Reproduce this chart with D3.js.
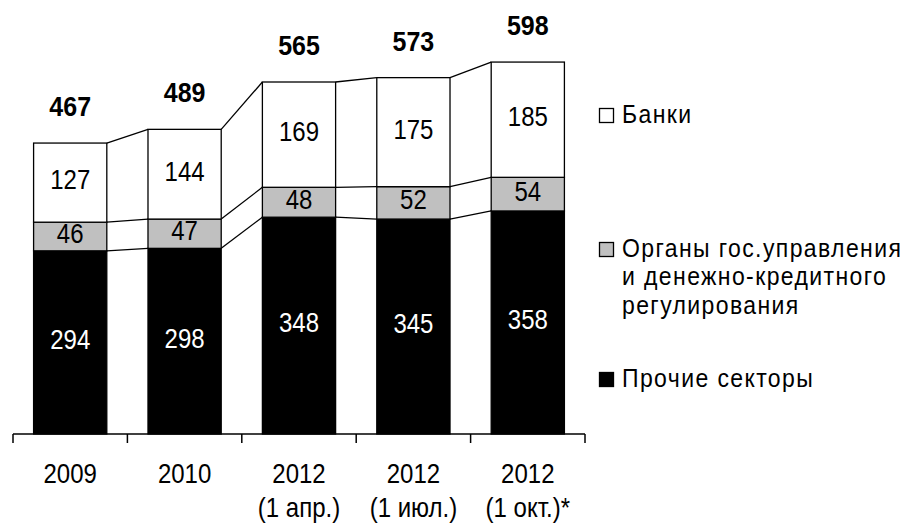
<!DOCTYPE html>
<html>
<head>
<meta charset="utf-8">
<script src="https://cdn.jsdelivr.net/npm/d3@7"></script>
<style>
  body { margin: 0; background: #fff; }
  text { font-family: "Liberation Sans", Arial, sans-serif; fill: #000; }
</style>
</head>
<body>
<div id="chart"></div>
<script>
// Data
const years = ['2009', '2010', '2012', '2012', '2012'];
const subLabels = ['', '', '(1 апр.)', '(1 июл.)', '(1 окт.)*'];
const otherSectors = [294, 298, 348, 345, 358];
const govBodies = [46, 47, 48, 52, 54];
const banks = [127, 144, 169, 175, 185];
const totals = [467, 489, 565, 573, 598];

const width = 912, height = 523;
const stretch = 1.13; // text in the picture is a bit taller than wide

const svg = d3.select('#chart')
    .append('svg')
    .attr('width', width)
    .attr('height', height);

const rows = years.map((yr, i) => ({
    idx: i,
    other: otherSectors[i],
    gov: govBodies[i],
    banks: banks[i]
}));

const keys = ['other', 'gov', 'banks'];
const fills = { other: '#000000', gov: '#c0c0c0', banks: '#ffffff' };
const textFill = { other: '#ffffff', gov: '#000000', banks: '#000000' };

const stacked = d3.stack().keys(keys)(rows);

const x = d3.scaleBand()
    .domain(d3.range(years.length))
    .range([13, 585])
    .paddingInner(0.36)
    .paddingOuter(0.18);

const y = d3.scaleLinear()
    .domain([0, 600])
    .range([434, 434 - 0.623 * 600]);

// helper for stretched text
function label(g, tx, ty, str, opts) {
    const t = g.append('g')
        .attr('transform', `translate(${tx},${ty}) scale(1,${stretch})`)
        .append('text')
        .attr('text-anchor', opts.anchor || 'middle')
        .style('font-size', opts.size + 'px')
        .style('font-weight', opts.bold ? 'bold' : 'normal')
        .style('fill', opts.fill || '#000')
        .text(str);
    if (opts.spacing) t.style('letter-spacing', opts.spacing + 'px');
    return t;
}

// connector lines between neighbouring bars
const connectors = svg.append('g');
stacked.forEach(layer => {
    for (let i = 0; i < layer.length - 1; i++) {
        connectors.append('line')
            .attr('x1', x(i) + x.bandwidth())
            .attr('y1', y(layer[i][1]))
            .attr('x2', x(i + 1))
            .attr('y2', y(layer[i + 1][1]))
            .attr('stroke', '#000')
            .attr('stroke-width', 1.3);
    }
});

// bars
svg.append('g')
    .selectAll('g')
    .data(stacked)
    .enter()
    .append('g')
    .attr('fill', d => fills[d.key])
    .selectAll('rect')
    .data(d => d)
    .enter()
    .append('rect')
    .attr('x', d => x(d.data.idx))
    .attr('y', d => y(d[1]))
    .attr('width', x.bandwidth())
    .attr('height', d => y(d[0]) - y(d[1]))
    .attr('stroke', '#000')
    .attr('stroke-width', 1.3);

// segment values
const valueLayer = svg.append('g');
stacked.forEach(layer => {
    layer.forEach(d => {
        const mid = (y(d[0]) + y(d[1])) / 2;
        label(valueLayer, x(d.data.idx) + x.bandwidth() / 2, mid + 6.5,
            d.data[layer.key], { size: 24, fill: textFill[layer.key] });
    });
});

// totals above bars
const topLayer = stacked[stacked.length - 1];
totals.forEach((t, i) => {
    label(valueLayer, x(i) + x.bandwidth() / 2, y(topLayer[i][1]) - 27, t, { size: 25, bold: true });
});

// x axis with ticks between categories
const axis = svg.append('g');
const [x0, x1] = x.range();
axis.append('line')
    .attr('x1', x0).attr('x2', x1)
    .attr('y1', y(0)).attr('y2', y(0))
    .attr('stroke', '#000').attr('stroke-width', 1.5);
d3.range(years.length + 1).forEach(i => {
    const tx = x0 + i * x.step();
    axis.append('line')
        .attr('x1', tx).attr('x2', tx)
        .attr('y1', y(0)).attr('y2', y(0) + 9)
        .attr('stroke', '#000').attr('stroke-width', 1.5);
});
years.forEach((yr, i) => {
    const cx = x(i) + x.bandwidth() / 2;
    label(axis, cx, 483, yr, { size: 24 });
    if (subLabels[i]) label(axis, cx, 517, subLabels[i], { size: 24 });
});

// legend
const legend = svg.append('g');
const legendItems = [
    { key: 'banks', lines: ['Банки'], baseline: 123 },
    { key: 'gov', lines: ['Органы гос.управления', 'и денежно-кредитного', 'регулирования'], baseline: 257 },
    { key: 'other', lines: ['Прочие секторы'], baseline: 387 }
];
legendItems.forEach(item => {
    legend.append('rect')
        .attr('x', 599.5)
        .attr('y', item.baseline - 14.5)
        .attr('width', 14)
        .attr('height', 14)
        .attr('fill', fills[item.key])
        .attr('stroke', '#000')
        .attr('stroke-width', 1.3);
    item.lines.forEach((ln, j) => {
        label(legend, 622, item.baseline + j * 28.3, ln, { size: 23, anchor: 'start', spacing: 1.4 });
    });
});
</script>
</body>
</html>
